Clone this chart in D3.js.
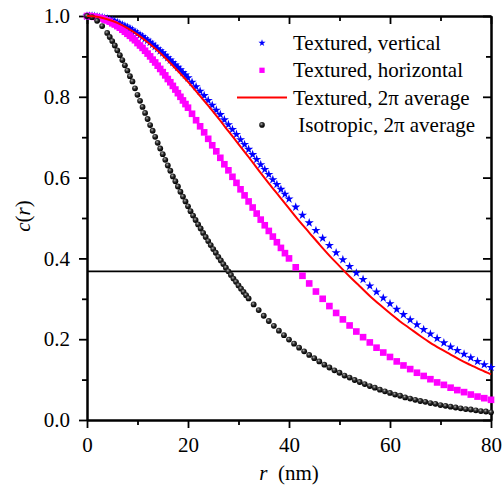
<!DOCTYPE html>
<html>
<head>
<meta charset="utf-8">
<script src="https://cdn.jsdelivr.net/npm/d3@7"></script>
<style>
  body { margin: 0; background: #fff; }
</style>
</head>
<body>
<div id="chart"></div>
<script>
// values (r in nm); markers are denser where the curves are steep
const markerR = [].concat(
  d3.range(40).map(i => i * 0.5),          // 0 .. 19.5
  d3.range(25).map(i => 20 + i * 0.8),     // 20 .. 39.2
  d3.range(31).map(i => 40 + i * 4 / 3));  // 40 .. 80
const isoR = [].concat(
  d3.range(4),                             // 0 .. 3
  d3.range(56).map(i => 4 + i * 0.5),      // 4 .. 31.5
  d3.range(49).map(i => 32 + i));          // 32 .. 80
const lineR = d3.range(41).map(i => i * 2);

const texturedVertical = [
  1.000, 1.000, 1.000, 0.999, 0.998, 0.997, 0.996, 0.994, 0.993, 0.991,
  0.989, 0.987, 0.984, 0.981, 0.978, 0.975, 0.972, 0.969, 0.965, 0.961,
  0.957, 0.953, 0.949, 0.944, 0.940, 0.935, 0.930, 0.925, 0.919, 0.914,
  0.909, 0.903, 0.897, 0.891, 0.885, 0.879, 0.873, 0.867, 0.860, 0.854,
  0.847, 0.836, 0.825, 0.814, 0.803, 0.791, 0.779, 0.767, 0.756, 0.743,
  0.731, 0.719, 0.707, 0.694, 0.682, 0.670, 0.657, 0.645, 0.632, 0.620,
  0.608, 0.595, 0.583, 0.571, 0.559,
  0.547, 0.527, 0.507, 0.488, 0.469, 0.450, 0.432, 0.414, 0.397, 0.380,
  0.364, 0.348, 0.332, 0.317, 0.302, 0.288, 0.274, 0.261, 0.248, 0.236,
  0.224, 0.213, 0.202, 0.191, 0.181, 0.172, 0.163, 0.154, 0.145, 0.137, 0.130];

const texturedHorizontal = [
  1.000, 1.000, 0.999, 0.998, 0.997, 0.995, 0.994, 0.991, 0.989, 0.986,
  0.982, 0.979, 0.975, 0.971, 0.966, 0.961, 0.956, 0.951, 0.945, 0.940,
  0.933, 0.927, 0.921, 0.914, 0.907, 0.900, 0.892, 0.885, 0.877, 0.869,
  0.861, 0.853, 0.844, 0.836, 0.827, 0.818, 0.809, 0.800, 0.791, 0.782,
  0.773, 0.758, 0.742, 0.727, 0.712, 0.696, 0.680, 0.665, 0.649, 0.633,
  0.618, 0.602, 0.587, 0.571, 0.556, 0.541, 0.526, 0.511, 0.496, 0.482,
  0.468, 0.454, 0.440, 0.426, 0.413,
  0.400, 0.378, 0.357, 0.338, 0.318, 0.300, 0.282, 0.265, 0.249, 0.234,
  0.219, 0.205, 0.192, 0.179, 0.167, 0.156, 0.145, 0.135, 0.126, 0.117,
  0.109, 0.101, 0.093, 0.087, 0.080, 0.074, 0.069, 0.063, 0.058, 0.054, 0.050];

const texturedAverage = [1.000, 0.998, 0.992, 0.983, 0.970, 0.954, 0.935, 0.914, 0.890, 0.864,
  0.837, 0.808, 0.778, 0.747, 0.715, 0.683, 0.651, 0.618, 0.586, 0.555,
  0.524, 0.493, 0.464, 0.435, 0.407, 0.381, 0.355, 0.331, 0.307, 0.285,
  0.264, 0.244, 0.226, 0.208, 0.191, 0.176, 0.162, 0.148, 0.136, 0.124, 0.113];

const isotropicAverage = [
  1.000, 0.997, 0.988, 0.975,
  0.958, 0.948, 0.938, 0.927, 0.915, 0.903, 0.891, 0.878, 0.865, 0.851,
  0.838, 0.821, 0.805, 0.790, 0.775, 0.760, 0.745, 0.730, 0.716, 0.701,
  0.686, 0.672, 0.658, 0.644, 0.630, 0.617, 0.603, 0.591, 0.578, 0.565,
  0.553, 0.541, 0.529, 0.517, 0.506, 0.495, 0.484, 0.474, 0.463, 0.453,
  0.443, 0.433, 0.423, 0.414, 0.404, 0.395, 0.386, 0.377, 0.368, 0.359,
  0.350, 0.342, 0.333, 0.325, 0.317, 0.309,
  0.301, 0.286, 0.272, 0.258, 0.245, 0.233, 0.221, 0.210, 0.199, 0.189,
  0.179, 0.170, 0.161, 0.153, 0.145, 0.137, 0.130, 0.123, 0.117, 0.110,
  0.105, 0.099, 0.094, 0.089, 0.084, 0.080, 0.075, 0.071, 0.067, 0.063,
  0.060, 0.056, 0.053, 0.050, 0.047, 0.045, 0.042, 0.040, 0.037, 0.035,
  0.033, 0.031, 0.029, 0.027, 0.026, 0.024, 0.022, 0.021, 0.019];

const oneOverE = 0.368;

const xTicks = [0, 20, 40, 60, 80];
const xMinor = [10, 30, 50, 70];
const yTicks = [0.0, 0.2, 0.4, 0.6, 0.8, 1.0];
const yMinor = [0.1, 0.3, 0.5, 0.7, 0.9];

const legendLabels = ["Textured, vertical", "Textured, horizontal", "Textured, 2\u03c0 average", " Isotropic, 2\u03c0 average"];

const serif = "'Liberation Serif', 'Times New Roman', 'DejaVu Serif', serif";

// layout
var margin = { top: 16, right: 11, bottom: 72, left: 87 },
    width = 502 - margin.left - margin.right,
    height = 492 - margin.top - margin.bottom;

const svg = d3.select("#chart")
  .append("svg")
    .attr("width", 502)
    .attr("height", 492)
    .style("font-family", serif)
  .append("g")
    .attr("transform", `translate(${margin.left},${margin.top})`);

const x = d3.scaleLinear().domain([0, 80]).range([0, width]);
const y = d3.scaleLinear().domain([0, 1]).range([height, 0]);

// shaded ball for the isotropic dots
const grad = svg.append("defs").append("radialGradient")
  .attr("id", "ball").attr("cx", "40%").attr("cy", "35%").attr("r", "60%");
grad.append("stop").attr("offset", "0%").attr("stop-color", "#b0b0b0");
grad.append("stop").attr("offset", "45%").attr("stop-color", "#303030");
grad.append("stop").attr("offset", "100%").attr("stop-color", "#000");

// axes
function styleAxis(g, withText) {
  g.attr("font-family", null);
  g.select(".domain").attr("stroke", "#000").attr("stroke-width", 2);
  g.selectAll(".tick line").attr("stroke", "#000").attr("stroke-width", 1.8);
  g.selectAll(".tick text").attr("fill", "#000")
    .style("font-family", serif).style("font-size", "21px");
  if (!withText) g.selectAll(".tick text").remove();
}

svg.append("g").attr("transform", `translate(0,${height})`)
  .call(d3.axisBottom(x).tickValues(xMinor).tickSize(5).tickSizeOuter(0))
  .call(g => styleAxis(g, false));
svg.append("g").attr("transform", `translate(0,${height})`)
  .call(d3.axisBottom(x).tickValues(xTicks).tickSize(8).tickPadding(9).tickSizeOuter(0))
  .call(g => styleAxis(g, true));

svg.append("g")
  .call(d3.axisTop(x).tickValues(xMinor).tickSize(-5).tickSizeOuter(0))
  .call(g => styleAxis(g, false));
svg.append("g")
  .call(d3.axisTop(x).tickValues(xTicks).tickSize(-8).tickSizeOuter(0))
  .call(g => styleAxis(g, false));

svg.append("g")
  .call(d3.axisLeft(y).tickValues(yMinor).tickSize(5).tickSizeOuter(0))
  .call(g => styleAxis(g, false));
svg.append("g")
  .call(d3.axisLeft(y).tickValues(yTicks).tickSize(8).tickPadding(9).tickSizeOuter(0).tickFormat(d3.format(".1f")))
  .call(g => styleAxis(g, true));

svg.append("g").attr("transform", `translate(${width},0)`)
  .call(d3.axisRight(y).tickValues(yMinor).tickSize(-5).tickSizeOuter(0))
  .call(g => styleAxis(g, false));
svg.append("g").attr("transform", `translate(${width},0)`)
  .call(d3.axisRight(y).tickValues(yTicks).tickSize(-8).tickSizeOuter(0))
  .call(g => styleAxis(g, false));

// 1/e line
svg.append("line")
  .attr("x1", x(0)).attr("x2", x(80))
  .attr("y1", y(oneOverE)).attr("y2", y(oneOverE))
  .attr("stroke", "#000").attr("stroke-width", 1.8);

// textured, vertical: blue stars
const star = d3.symbol().type(d3.symbolStar).size(26);
svg.append("g").selectAll("path")
  .data(texturedVertical)
  .join("path")
    .attr("d", star)
    .attr("transform", (d, i) => `translate(${x(markerR[i])},${y(d)})`)
    .attr("fill", "#0000ff");

// textured, horizontal: magenta squares
const square = d3.symbol().type(d3.symbolSquare).size(44);
svg.append("g").selectAll("path")
  .data(texturedHorizontal)
  .join("path")
    .attr("d", square)
    .attr("transform", (d, i) => `translate(${x(markerR[i])},${y(d)})`)
    .attr("fill", "#ff00ff");

// isotropic: black balls
svg.append("g").selectAll("circle")
  .data(isotropicAverage)
  .join("circle")
    .attr("cx", (d, i) => x(isoR[i]))
    .attr("cy", d => y(d))
    .attr("r", 2.9)
    .attr("fill", "url(#ball)");

// textured 2pi average: red line
const line = d3.line()
  .x((d, i) => x(lineR[i]))
  .y(d => y(d))
  .curve(d3.curveMonotoneX);
svg.append("path")
  .datum(texturedAverage)
  .attr("d", line)
  .attr("fill", "none")
  .attr("stroke", "#ff0000")
  .attr("stroke-width", 2);

// legend
const legend = svg.append("g").attr("transform", "translate(175,27)");
const rowH = 27.3;
legend.append("path").attr("d", d3.symbol().type(d3.symbolStar).size(16))
  .attr("transform", `translate(0,0)`).attr("fill", "#0000ff");
legend.append("path").attr("d", d3.symbol().type(d3.symbolSquare).size(28))
  .attr("transform", `translate(0,${rowH})`).attr("fill", "#ff00ff");
legend.append("line").attr("x1", -25).attr("x2", 25)
  .attr("y1", rowH * 2).attr("y2", rowH * 2)
  .attr("stroke", "#ff0000").attr("stroke-width", 2);
legend.append("circle").attr("cx", 0).attr("cy", rowH * 3).attr("r", 2.8)
  .attr("fill", "url(#ball)");
legend.selectAll("text.lab")
  .data(legendLabels)
  .join("text")
    .attr("class", "lab")
    .attr("x", 31)
    .attr("y", (d, i) => i * rowH + 7)
    .attr("xml:space", "preserve")
    .style("white-space", "pre")
    .style("font-family", serif)
    .style("font-size", "21px")
    .text(d => d);

// axis titles
const yTitle = svg.append("text")
  .attr("transform", `translate(-57,${height / 2 - 2}) rotate(-90)`)
  .attr("text-anchor", "middle")
  .style("font-family", serif)
  .style("font-size", "21px");
yTitle.append("tspan").style("font-style", "italic").text("c");
yTitle.append("tspan").text("(");
yTitle.append("tspan").style("font-style", "italic").text("r");
yTitle.append("tspan").text(")");

const xTitle = svg.append("text")
  .attr("x", width / 2)
  .attr("y", height + 60)
  .attr("text-anchor", "middle")
  .attr("xml:space", "preserve")
  .style("white-space", "pre")
  .style("font-family", serif)
  .style("font-size", "21px");
xTitle.append("tspan").style("font-style", "italic").text("r");
xTitle.append("tspan").text("  (nm)");
</script>
</body>
</html>
